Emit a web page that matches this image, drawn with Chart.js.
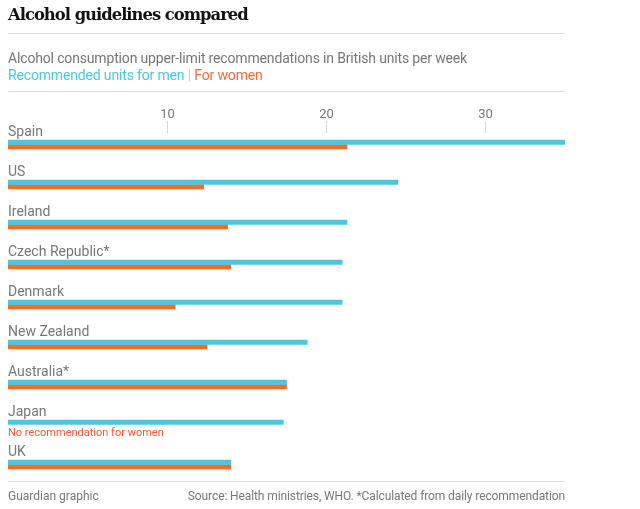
<!DOCTYPE html>
<html>
<head>
<meta charset="utf-8">
<script src="https://cdn.jsdelivr.net/npm/chart.js@4.4.1/dist/chart.umd.min.js"></script>
<style>
  html, body { margin:0; padding:0; background:#fff; }
  #wrap { position:relative; width:640px; height:509px; overflow:hidden; }
  #c { position:absolute; left:0; top:0; }
  .t { position:absolute; white-space:nowrap; font-family:Roboto, sans-serif; }
  #title { left:8px; top:5px; font-family:"DejaVu Serif", serif; font-weight:bold; font-size:16.4px; color:#121212; letter-spacing:-1px; }
  .rule { position:absolute; left:8px; width:557px; height:1px; background:#dcdcdc; }
  #sub { left:8px; top:50px; font-size:14px; color:#767676; letter-spacing:-0.16px; }
  #leg { left:8px; top:67px; font-size:14px; letter-spacing:-0.16px; }
  #foot1 { left:8px; top:489px; font-size:12px; color:#767676; }
  #foot2 { right:75px; top:489px; font-size:12px; color:#767676; letter-spacing:-0.1px; }
</style>
</head>
<body>
<div id="wrap">
  <canvas id="c" width="640" height="509"></canvas>
  <div class="t" id="title">Alcohol guidelines compared</div>
  <div class="rule" style="top:33px"></div>
  <div class="t" id="sub">Alcohol consumption upper-limit recommendations in British units per week</div>
  <div class="t" id="leg"><span style="color:#4bc6df">Recommended units for men</span> <span style="color:#d0d0d0">|</span> <span style="color:#f5693b">For women</span></div>
  <div class="rule" style="top:91px"></div>
  <div class="rule" style="top:481px"></div>
  <div class="t" id="foot1">Guardian graphic</div>
  <div class="t" id="foot2">Source: Health ministries, WHO. *Calculated from daily recommendation</div>
</div>
<script>
const categories = ['Spain', 'US', 'Ireland', 'Czech Republic*', 'Denmark', 'New Zealand', 'Australia*', 'Japan', 'UK'];
const menUnits = [35, 24.5, 21.3, 21, 21, 18.8, 17.5, 17.3, 14];
const womenUnits = [21.3, 12.3, 13.8, 14, 10.5, 12.5, 17.5, null, 14];
const xTicks = [10, 20, 30];
const noteText = 'No recommendation for women';

const MEN = '#4bc6df', WOMEN = '#f36c21';

const overlay = {
  id: 'overlay',
  afterDatasetsDraw(chart) {
    const ctx = chart.ctx, x = chart.scales.x, y = chart.scales.y;
    ctx.save();
    ctx.font = '13px Roboto, sans-serif';
    ctx.fillStyle = '#767676';
    ctx.textAlign = 'center';
    ctx.textBaseline = 'middle';
    ctx.strokeStyle = '#d6d6d6';
    ctx.lineWidth = 1;
    xTicks.forEach(v => {
      const px = Math.round(x.getPixelForValue(v)) + 0.5;
      ctx.fillText(String(v), px, 115);
      ctx.beginPath();
      ctx.moveTo(px, 121);
      ctx.lineTo(px, 133);
      ctx.stroke();
    });
    ctx.textAlign = 'left';
    categories.forEach((c, i) => {
      const cy = y.getPixelForValue(i);
      ctx.font = '14px Roboto, sans-serif';
      ctx.fillStyle = '#767676';
      ctx.fillText(c, x.getPixelForValue(0), cy - 12.5);
      if (womenUnits[i] === null) {
        ctx.font = '11px Roboto, sans-serif';
        ctx.fillStyle = '#f5593b';
        ctx.fillText(noteText, x.getPixelForValue(0), cy + 9);
      }
    });
    ctx.restore();
  }
};

new Chart(document.getElementById('c'), {
  type: 'bar',
  data: {
    labels: categories,
    datasets: [
      { label: 'Recommended units for men', data: menUnits, backgroundColor: MEN, barThickness: 4.5 },
      { label: 'For women', data: womenUnits, backgroundColor: WOMEN, barThickness: 4.5 }
    ]
  },
  options: {
    indexAxis: 'y',
    responsive: false,
    animation: false,
    devicePixelRatio: 1,
    layout: { padding: { left: 8, right: 75, top: 124.5, bottom: 24.5 } },
    scales: {
      x: { display: false, min: 0, max: 35 },
      y: { display: false, offset: true }
    },
    plugins: { legend: { display: false }, tooltip: { enabled: false } }
  },
  plugins: [overlay]
});
</script>
</body>
</html>
